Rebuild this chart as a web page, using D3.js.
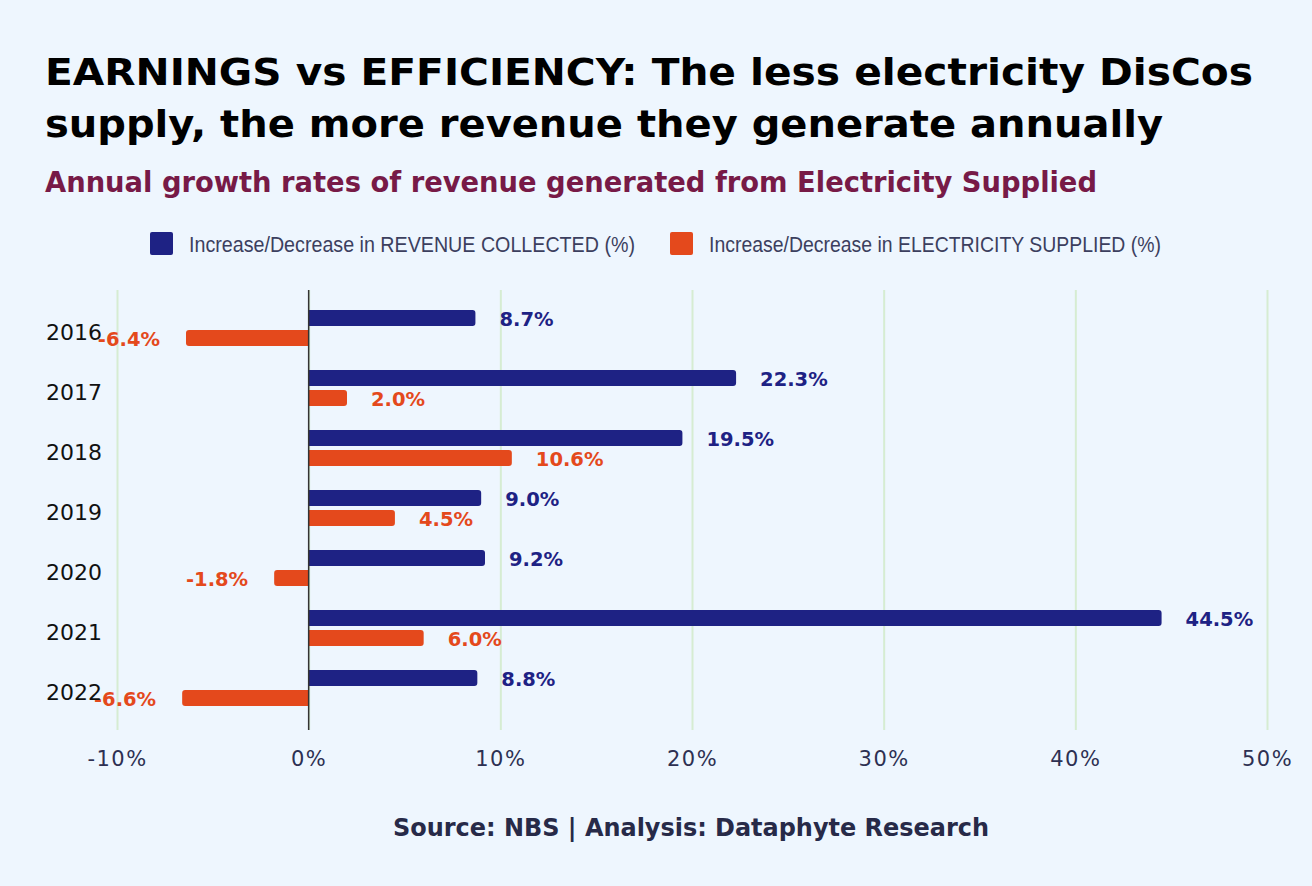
<!DOCTYPE html>
<html>
<head>
<meta charset="utf-8">
<script src="https://cdn.jsdelivr.net/npm/d3@7"></script>
<style>
  html, body { margin: 0; padding: 0; background: #eef6fe; }
  svg { display: block; }
</style>
</head>
<body>
<svg id="chart" width="1312" height="886"></svg>
<script>
// ---- data ----
const years = ["2016", "2017", "2018", "2019", "2020", "2021", "2022"];
const revenue = [8.7, 22.3, 19.5, 9.0, 9.2, 44.5, 8.8];
const electricity = [-6.4, 2.0, 10.6, 4.5, -1.8, 6.0, -6.6];
const seriesNames = ["Increase/Decrease in REVENUE COLLECTED (%)", "Increase/Decrease in ELECTRICITY SUPPLIED (%)"];
const xTicks = [-10, 0, 10, 20, 30, 40, 50];
const titleLines = ["EARNINGS vs EFFICIENCY: The less electricity DisCos", "supply, the more revenue they generate annually"];
const subtitle = "Annual growth rates of revenue generated from Electricity Supplied";
const source = "Source: NBS | Analysis: Dataphyte Research";

const NAVY = "#1e2284", ORANGE = "#e4491c";
const svg = d3.select("#chart");
svg.append("rect").attr("width", 1312).attr("height", 886).attr("fill", "#eef6fe");

const condensed = "'DejaVu Sans Condensed', 'DejaVu Sans', sans-serif";

// titles
const titleLens = [1208, 1118];
titleLines.forEach((t, i) => {
  svg.append("text").attr("x", 45).attr("y", 85 + i * 52)
    .attr("font-family", condensed).attr("font-stretch", "condensed")
    .attr("font-weight", "bold").attr("font-size", 37.5).attr("fill", "#000")
    .attr("textLength", titleLens[i]).attr("lengthAdjust", "spacingAndGlyphs")
    .text(t);
});
svg.append("text").attr("x", 45).attr("y", 192)
  .attr("font-family", condensed).attr("font-stretch", "condensed")
  .attr("font-weight", "bold").attr("font-size", 27.5).attr("fill", "#771a47")
  .attr("textLength", 1052).attr("lengthAdjust", "spacingAndGlyphs")
  .text(subtitle);

// legend
const legendX = [150, 670], legendLen = [446, 452];
[NAVY, ORANGE].forEach((c, i) => {
  svg.append("rect").attr("x", legendX[i]).attr("y", 232).attr("width", 23).attr("height", 23)
    .attr("rx", 2).attr("fill", c);
  svg.append("text").attr("x", legendX[i] + 39).attr("y", 252)
    .attr("font-family", "'Liberation Sans Narrow', 'Liberation Sans', Arial, sans-serif")
    .attr("font-size", 22).attr("fill", "#3c3f5e")
    .attr("textLength", legendLen[i]).attr("lengthAdjust", "spacingAndGlyphs")
    .text(seriesNames[i]);
});

// scales
const x = d3.scaleLinear().domain([-10, 50]).range([117, 1267]);
const y = d3.scaleBand().domain(years).range([298, 718]);
const plotTop = 290, plotBottom = 730;

// grid + tick labels via axis
const xAxis = d3.axisBottom(x).tickValues(xTicks).tickFormat(d => d + "%")
  .tickSize(-(plotBottom - plotTop)).tickPadding(21);
const gx = svg.append("g").attr("transform", `translate(0,${plotBottom})`).call(xAxis);
gx.select(".domain").remove();
gx.selectAll(".tick line").attr("stroke", "#d6ecd2").attr("stroke-width", 2);
gx.selectAll(".tick text").attr("font-family", "'DejaVu Sans', sans-serif")
  .attr("font-size", 21).attr("fill", "#2d3052").attr("letter-spacing", 1.5);

// bars
function barPath(v, top, h) {
  const x0 = x(0), x1 = x(v), r = 3;
  const s = v >= 0 ? 1 : -1;
  return `M${x0},${top} H${x1 - s * r} Q${x1},${top} ${x1},${top + r} V${top + h - r} Q${x1},${top + h} ${x1 - s * r},${top + h} H${x0} Z`;
}
const rows = years.map((yr, i) => ({ yr, rev: revenue[i], ele: electricity[i] }));
const g = svg.append("g");
g.selectAll(".rev").data(rows).join("path").attr("class", "rev")
  .attr("d", d => barPath(d.rev, y(d.yr) + 12, 16)).attr("fill", NAVY);
g.selectAll(".ele").data(rows).join("path").attr("class", "ele")
  .attr("d", d => barPath(d.ele, y(d.yr) + 32, 16)).attr("fill", ORANGE);

// zero line
svg.append("line").attr("x1", x(0)).attr("x2", x(0)).attr("y1", plotTop).attr("y2", plotBottom)
  .attr("stroke", "#333").attr("stroke-width", 1.5);

// value labels
function addLabels(key, offset, color) {
  svg.selectAll(".lab-" + key).data(rows).join("text").attr("class", "lab-" + key)
    .attr("x", d => d[key] >= 0 ? x(d[key]) + 24 : x(d[key]) - 26)
    .attr("y", d => y(d.yr) + offset + 8 + 8)
    .attr("text-anchor", d => d[key] >= 0 ? "start" : "end")
    .attr("font-family", "'DejaVu Sans', sans-serif").attr("font-weight", "bold")
    .attr("font-size", 19.5).attr("fill", color)
    .text(d => d[key].toFixed(1) + "%");
}
addLabels("rev", 12, NAVY);
addLabels("ele", 32, ORANGE);

// year labels
svg.selectAll(".yr").data(years).join("text").attr("class", "yr")
  .attr("x", 102).attr("y", d => y(d) + y.bandwidth() / 2 + 12)
  .attr("text-anchor", "end").attr("font-family", "'DejaVu Sans', sans-serif")
  .attr("font-size", 22).attr("fill", "#111").text(d => d);

// source
svg.append("text").attr("x", 691).attr("y", 836).attr("text-anchor", "middle")
  .attr("font-family", condensed).attr("font-stretch", "condensed")
  .attr("font-weight", "bold").attr("font-size", 24).attr("fill", "#272a48")
  .attr("textLength", 596).attr("lengthAdjust", "spacingAndGlyphs")
  .text(source);
</script>
</body>
</html>
